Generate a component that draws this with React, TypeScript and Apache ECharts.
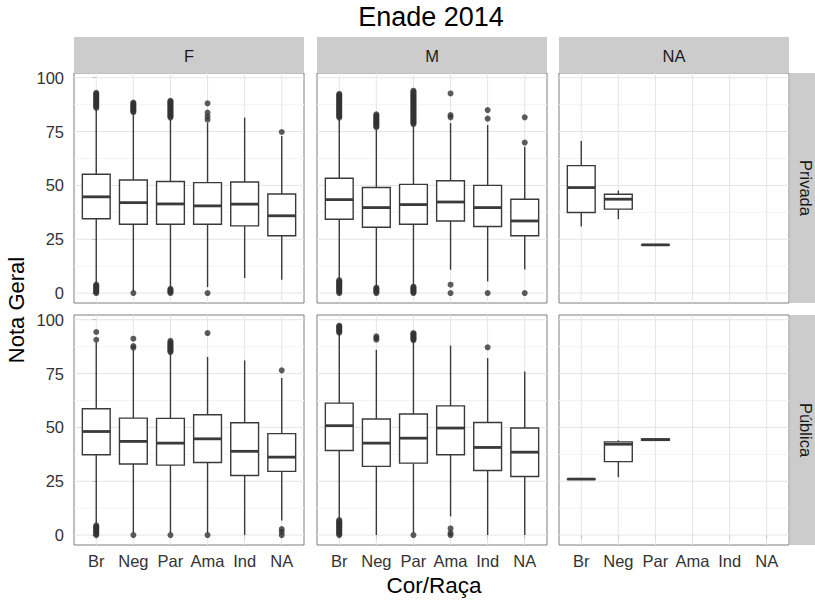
import React, { useEffect, useRef } from 'react';
import * as echarts from 'echarts';

const categories = ['Br', 'Neg', 'Par', 'Ama', 'Ind', 'NA'];
const sexLevels = ['F', 'M', 'NA'];
const sectorLevels = ['Privada', 'Pública'];
const yTickValues = [0, 25, 50, 75, 100];
const yMinorValues = [12.5, 37.5, 62.5, 87.5];
const xTickValues = [0, 1, 2, 3, 4, 5];

// [low whisker, Q1, median, Q3, high whisker]; null = no data
const boxesFPrivada = [
  [4.4, 34.5, 44.7, 55.2, 85.0],
  [0.8, 32.0, 42.0, 52.5, 83.0],
  [2.6, 32.0, 41.4, 51.8, 80.6],
  [2.8, 32.0, 40.5, 51.3, 79.0],
  [7.0, 31.2, 41.3, 51.6, 81.5],
  [6.2, 26.6, 35.9, 46.0, 73.0],
];
const boxesMPrivada = [
  [6.8, 34.3, 43.4, 53.3, 80.6],
  [3.0, 30.6, 39.7, 49.0, 75.8],
  [3.5, 32.0, 41.1, 50.5, 77.6],
  [10.8, 33.5, 42.3, 52.2, 79.0],
  [5.4, 30.9, 39.7, 50.0, 78.0],
  [11.0, 26.6, 33.5, 43.6, 68.0],
];
const boxesNAPrivada = [
  [30.9, 37.4, 49.0, 59.2, 70.6],
  [34.3, 39.0, 43.6, 45.9, 47.6],
  [22.4, 22.4, 22.4, 22.4, 22.4],
  null,
  null,
  null,
];
const boxesFPublica = [
  [5.4, 37.3, 48.1, 58.7, 89.6],
  [1.0, 33.0, 43.5, 54.3, 86.0],
  [1.0, 32.5, 42.7, 54.2, 84.5],
  [1.0, 33.7, 44.7, 55.9, 82.7],
  [0.0, 27.7, 38.9, 52.2, 81.1],
  [6.8, 29.6, 36.2, 47.1, 72.9],
];
const boxesMPublica = [
  [7.9, 39.3, 50.8, 61.3, 93.5],
  [0.0, 31.9, 42.7, 53.9, 86.0],
  [0.8, 33.4, 45.0, 56.2, 90.0],
  [8.7, 37.3, 49.7, 60.0, 88.0],
  [0.0, 30.0, 40.7, 52.3, 82.2],
  [0.0, 27.2, 38.5, 49.7, 76.0],
];
const boxesNAPublica = [
  [26.0, 26.0, 26.0, 26.0, 26.0],
  [26.9, 34.1, 42.2, 43.3, 44.0],
  [44.0, 44.0, 44.3, 44.7, 44.9],
  null,
  null,
  null,
];

// outlier values per category
const outliersFPrivada = [
  [0, 0.5, 1, 1.5, 2, 2.5, 3, 3.5, 4, 86, 86.5, 87, 87.5, 88, 88.5, 89, 89.5, 90, 90.5, 91, 91.5, 92, 92.5, 93],
  [0, 84, 84.5, 85, 85.5, 86, 86.5, 87, 87.5, 88, 88.5],
  [0, 0.5, 1, 1.5, 2, 81.5, 82, 82.5, 83, 83.5, 84, 84.5, 85, 85.5, 86, 86.5, 87, 87.5, 88, 88.5, 89, 89.3],
  [0, 80.5, 82, 83.8, 88.1],
  [],
  [74.8],
];
const outliersMPrivada = [
  [0, 0.5, 1, 1.5, 2, 2.5, 3, 3.5, 4, 4.5, 5, 5.5, 6, 81.5, 82, 82.5, 83, 83.5, 84, 84.5, 85, 85.5, 86, 86.5, 87, 87.5, 88, 88.5, 89, 89.5, 90, 90.5, 91, 91.5, 92, 92.5],
  [0, 0.5, 1, 1.5, 2, 2.5, 77, 77.5, 78, 78.5, 79, 79.5, 80, 80.5, 81, 81.5, 82, 82.5, 83],
  [0, 0.5, 1, 1.5, 2, 2.5, 3, 78.5, 79, 79.5, 80, 80.5, 81, 81.5, 82, 82.5, 83, 83.5, 84, 84.5, 85, 85.5, 86, 86.5, 87, 87.5, 88, 88.5, 89, 89.5, 90, 90.5, 91, 91.5, 92, 92.5, 93, 93.5, 94],
  [0, 3.9, 81.6, 82.7, 92.7],
  [0, 81, 85],
  [0, 69.9, 81.6],
];
const outliersNAPrivada = [[], [], [], [], [], []];
const outliersFPublica = [
  [0, 0.5, 1, 1.5, 2, 2.5, 3, 3.5, 4, 4.5, 90.7, 94.3],
  [0, 87, 87.8, 91.2],
  [0, 85, 85.5, 86, 86.5, 87, 87.5, 88, 88.5, 89, 89.5, 90.2],
  [0, 93.8],
  [],
  [0, 1.5, 2.8, 76.5],
];
const outliersMPublica = [
  [0, 0.5, 1, 1.5, 2, 2.5, 3, 3.5, 4, 4.5, 5, 5.5, 6, 6.5, 7, 94, 94.5, 95, 95.5, 96, 96.5, 97, 97.2],
  [90.7, 91.5, 92.3],
  [0, 90.5, 91, 91.5, 92, 92.5, 93, 93.5, 93.8],
  [0, 1, 3.1],
  [87.2],
  [],
];
const outliersNAPublica = [[], [], [], [], [], []];

const panelBoxes = [boxesFPrivada, boxesMPrivada, boxesNAPrivada, boxesFPublica, boxesMPublica, boxesNAPublica];
const panelOutliers = [outliersFPrivada, outliersMPrivada, outliersNAPrivada, outliersFPublica, outliersMPublica, outliersNAPublica];

// layout
const PANEL_LEFTS = [74, 317, 559];
const PANEL_TOPS = [73, 315];
const PANEL_W = 230;
const PANEL_H = 230;
const X_MIN = -0.6;
const X_MAX = 5.6;
const Y_MIN = -4.6;
const Y_MAX = 102.2;
const FONT = '"Liberation Sans", Arial, Helvetica, sans-serif';
const BOX_HALF = 0.375;

function textEl(text: string, x: number, y: number, size: number, rotation = 0, color = '#1a1a1a') {
  return {
    type: 'text',
    x,
    y,
    rotation,
    silent: true,
    z: 10,
    style: {
      text,
      fontSize: size,
      fontFamily: FONT,
      fill: color,
      textAlign: 'center',
      textVerticalAlign: 'middle',
      align: 'center',
      verticalAlign: 'middle',
    },
  };
}

export default function App() {
  const ref = useRef<HTMLDivElement>(null);

  useEffect(() => {
    if (!ref.current) return;
    const chart = echarts.init(ref.current, null, { renderer: 'svg' });

    const grids: any[] = [];
    const xAxes: any[] = [];
    const yAxes: any[] = [];
    const series: any[] = [];

    for (let r = 0; r < sectorLevels.length; r++) {
      for (let c = 0; c < sexLevels.length; c++) {
        const k = r * 3 + c;
        grids.push({
          left: PANEL_LEFTS[c],
          top: PANEL_TOPS[r],
          width: PANEL_W,
          height: PANEL_H,
          show: true,
          borderColor: '#7f7f7f',
          borderWidth: 1,
          backgroundColor: '#ffffff',
          containLabel: false,
        });
        const showX = r === sectorLevels.length - 1;
        const showY = c === 0;
        xAxes.push({
          gridIndex: k,
          type: 'value',
          min: X_MIN,
          max: X_MAX,
          axisLine: { show: false },
          splitLine: { show: false },
          axisTick: {
            show: showX,
            customValues: xTickValues,
            length: 4,
            lineStyle: { color: '#4d4d4d', width: 1 },
          },
          axisLabel: {
            show: showX,
            customValues: xTickValues,
            formatter: (v: number) => categories[Math.round(v)] ?? '',
            fontSize: 16.5,
            fontFamily: FONT,
            color: '#333333',
            margin: 7,
          },
        });
        yAxes.push({
          gridIndex: k,
          type: 'value',
          min: Y_MIN,
          max: Y_MAX,
          axisLine: { show: false },
          splitLine: { show: false },
          axisTick: {
            show: showY,
            customValues: yTickValues,
            length: 4,
            lineStyle: { color: '#4d4d4d', width: 1 },
          },
          axisLabel: {
            show: showY,
            customValues: yTickValues,
            fontSize: 16.5,
            fontFamily: FONT,
            color: '#333333',
            margin: 10,
          },
        });

        // grid lines
        series.push({
          type: 'custom',
          xAxisIndex: k,
          yAxisIndex: k,
          silent: true,
          z: 1,
          data: [[0, 0]],
          renderItem: (_p: any, api: any) => {
            const children: any[] = [];
            yMinorValues.forEach((v) => {
              const a = api.coord([X_MIN, v]);
              const b = api.coord([X_MAX, v]);
              children.push({ type: 'line', shape: { x1: a[0], y1: a[1], x2: b[0], y2: b[1] }, style: { stroke: '#f3f3f3', lineWidth: 1 } });
            });
            yTickValues.forEach((v) => {
              const a = api.coord([X_MIN, v]);
              const b = api.coord([X_MAX, v]);
              children.push({ type: 'line', shape: { x1: a[0], y1: a[1], x2: b[0], y2: b[1] }, style: { stroke: '#e5e5e5', lineWidth: 1 } });
            });
            xTickValues.forEach((v) => {
              const a = api.coord([v, Y_MIN]);
              const b = api.coord([v, Y_MAX]);
              children.push({ type: 'line', shape: { x1: a[0], y1: a[1], x2: b[0], y2: b[1] }, style: { stroke: '#e5e5e5', lineWidth: 1 } });
            });
            return { type: 'group', children };
          },
        });

        // boxes
        const boxData: any[] = [];
        panelBoxes[k].forEach((b, i) => {
          if (b) boxData.push([i, b[0], b[1], b[2], b[3], b[4]]);
        });
        series.push({
          type: 'custom',
          xAxisIndex: k,
          yAxisIndex: k,
          silent: true,
          z: 3,
          encode: { x: 0, y: [1, 2, 3, 4, 5] },
          data: boxData,
          renderItem: (_p: any, api: any) => {
            const x = api.value(0);
            const low = api.coord([x, api.value(1)]);
            const q1 = api.coord([x, api.value(2)]);
            const med = api.coord([x, api.value(3)]);
            const q3 = api.coord([x, api.value(4)]);
            const high = api.coord([x, api.value(5)]);
            const left = api.coord([x - BOX_HALF, api.value(3)])[0];
            const right = api.coord([x + BOX_HALF, api.value(3)])[0];
            const stroke = '#3a3a3a';
            return {
              type: 'group',
              children: [
                { type: 'line', shape: { x1: high[0], y1: high[1], x2: q3[0], y2: q3[1] }, style: { stroke, lineWidth: 1.4 } },
                { type: 'line', shape: { x1: q1[0], y1: q1[1], x2: low[0], y2: low[1] }, style: { stroke, lineWidth: 1.4 } },
                {
                  type: 'rect',
                  shape: { x: left, y: q3[1], width: right - left, height: Math.max(q1[1] - q3[1], 0.01) },
                  style: { fill: '#ffffff', stroke, lineWidth: 1.4 },
                },
                { type: 'line', shape: { x1: left, y1: med[1], x2: right, y2: med[1] }, style: { stroke, lineWidth: 2.8 } },
              ],
            };
          },
        });

        // outliers
        const outData: number[][] = [];
        panelOutliers[k].forEach((vals, i) => {
          vals.forEach((v) => outData.push([i, v]));
        });
        series.push({
          type: 'scatter',
          xAxisIndex: k,
          yAxisIndex: k,
          silent: true,
          z: 4,
          symbol: 'circle',
          symbolSize: 6,
          itemStyle: { color: '#333333' },
          data: outData,
        });
      }
    }

    const graphics: any[] = [];
    // top strips
    sexLevels.forEach((s, c) => {
      graphics.push({
        type: 'rect',
        silent: true,
        shape: { x: PANEL_LEFTS[c], y: 37, width: PANEL_W, height: 36 },
        style: { fill: '#cccccc' },
      });
      graphics.push(textEl(s, PANEL_LEFTS[c] + PANEL_W / 2, 56, 16.5));
    });
    // right strips
    sectorLevels.forEach((s, r) => {
      graphics.push({
        type: 'rect',
        silent: true,
        shape: { x: 790, y: PANEL_TOPS[r], width: 26, height: PANEL_H },
        style: { fill: '#cccccc' },
      });
      graphics.push(textEl(s, 806, PANEL_TOPS[r] + PANEL_H / 2, 16.5, -Math.PI / 2));
    });
    graphics.push(textEl('Enade 2014', 431, 17, 27, 0, '#000000'));
    graphics.push(textEl('Nota Geral', 16, 310, 22, Math.PI / 2, '#000000'));
    graphics.push(textEl('Cor/Raça', 434, 585, 22.5, 0, '#000000'));

    chart.setOption({
      animation: false,
      backgroundColor: '#ffffff',
      grid: grids,
      xAxis: xAxes,
      yAxis: yAxes,
      series,
      graphic: graphics,
    });

    return () => chart.dispose();
  }, []);

  return (
    <div
      ref={ref}
      style={{ position: 'fixed', left: 0, top: 0, width: 815, height: 603 }}
    />
  );
}
